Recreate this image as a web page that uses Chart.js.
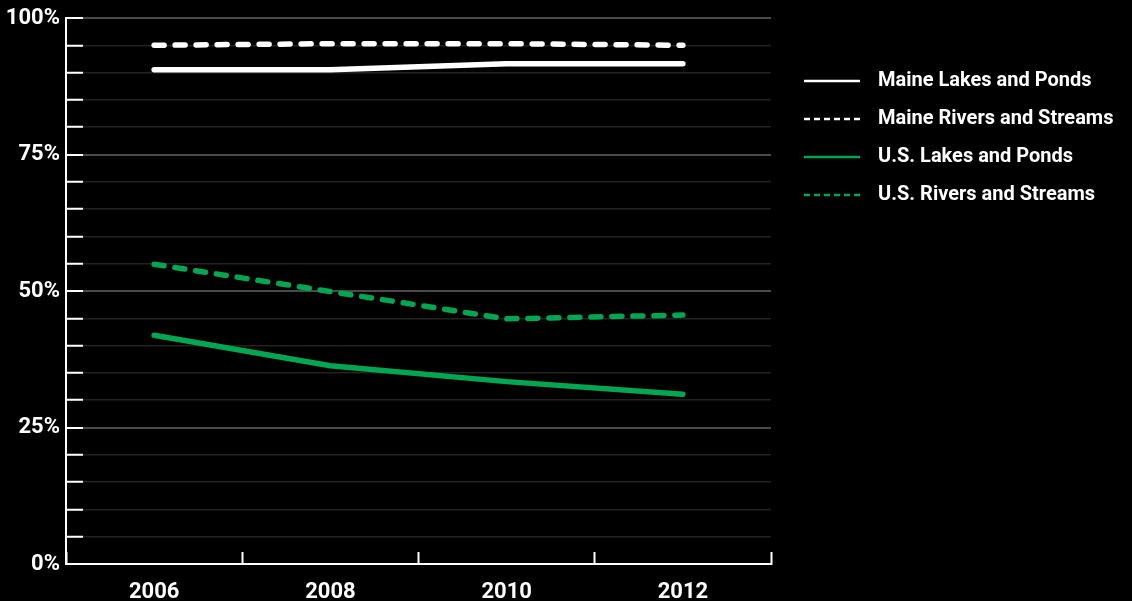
<!DOCTYPE html>
<html>
<head>
<meta charset="utf-8">
<script src="https://cdn.jsdelivr.net/npm/chart.js@4/dist/chart.umd.min.js"></script>
<style>
  html, body { margin: 0; padding: 0; background: #000; }
  canvas { display: block; }
</style>
</head>
<body>
<canvas id="c" width="1132" height="601"></canvas>
<script>
const categories = ['2006', '2008', '2010', '2012'];
const maineLakes = [90.5, 90.5, 91.6, 91.6];
const maineRivers = [95.0, 95.3, 95.3, 95.0];
const usLakes = [41.9, 36.3, 33.4, 31.1];
const usRivers = [54.9, 49.9, 44.9, 45.6];
const seriesNames = ['Maine Lakes and Ponds', 'Maine Rivers and Streams', 'U.S. Lakes and Ponds', 'U.S. Rivers and Streams'];
const majorTickValues = [0, 25, 50, 75, 100];
const yTickLabels = ['0%', '25%', '50%', '75%', '100%'];

const WHITE = '#ffffff';
const GREEN = '#00a651';
const FONT = 'Roboto, "Liberation Sans", Arial, sans-serif';

const bgPlugin = {
  id: 'bg',
  beforeDraw(chart) {
    const ctx = chart.ctx;
    ctx.save();
    ctx.fillStyle = '#000';
    ctx.fillRect(0, 0, chart.width, chart.height);
    ctx.restore();
  }
};

const legendPlace = {
  id: 'legendPlace',
  beforeLayout(chart) {
    const lg = chart.legend;
    if (lg && !lg._wrapped) {
      const orig = lg.fit;
      lg.fit = function () { orig.call(this); this.width = 1132 - 771; };
      lg._wrapped = true;
    }
  },
  afterLayout(chart) {
    const lg = chart.legend;
    if (lg) { lg.left += 15; }
  }
};

function legendSample(color, dashed) {
  const cv = document.createElement('canvas');
  cv.width = 64; cv.height = 6;
  const g = cv.getContext('2d');
  g.strokeStyle = color;
  g.lineWidth = 2.5;
  g.setLineDash(dashed ? [6, 4] : []);
  g.beginPath();
  g.moveTo(0, 3);
  g.lineTo(56, 3);
  g.stroke();
  return cv;
}

function mk(label, data, color, dashed) {
  return {
    label, data,
    borderColor: color,
    backgroundColor: color,
    borderWidth: 5.5,
    borderDash: dashed ? [10, 11] : [],
    borderCapStyle: 'round',
    borderJoinStyle: 'round',
    pointRadius: 0,
    tension: 0,
    fill: false,
    legendStyle: legendSample(color, dashed)
  };
}

new Chart(document.getElementById('c'), {
  type: 'line',
  data: {
    labels: categories,
    datasets: [
      mk(seriesNames[0], maineLakes, WHITE, false),
      mk(seriesNames[1], maineRivers, WHITE, true),
      mk(seriesNames[2], usLakes, GREEN, false),
      mk(seriesNames[3], usRivers, GREEN, true)
    ]
  },
  options: {
    responsive: false,
    animation: false,
    layout: { padding: { top: 0, left: 0, right: 0, bottom: 0 } },
    plugins: {
      tooltip: { enabled: false },
      legend: {
        position: 'right',
        align: 'start',
        title: { display: true, text: '', font: { size: 12, lineHeight: 1 }, padding: { top: 21, bottom: 20 } },
        labels: {
          color: WHITE,
          font: { family: FONT, size: 20, weight: 'bold' },
          padding: 18,
          usePointStyle: true,
          pointStyleWidth: 64,
          generateLabels(chart) {
            return chart.data.datasets.map((ds, i) => ({
              text: ds.label,
              fillStyle: ds.borderColor,
              strokeStyle: ds.borderColor,
              lineWidth: 0,
              pointStyle: ds.legendStyle,
              fontColor: WHITE,
              hidden: false,
              datasetIndex: i
            }));
          }
        }
      }
    },
    scales: {
      x: {
        type: 'category',
        offset: true,
        afterFit(s) { s.height = 601 - 564; },
        border: { display: true, color: WHITE, width: 2 },
        grid: {
          offset: true,
          drawOnChartArea: false,
          drawTicks: true,
          tickLength: -12,
          tickColor: WHITE,
          tickWidth: 2
        },
        ticks: {
          color: WHITE,
          padding: 27,
          font: { family: FONT, size: 22, weight: 'bold' },
          maxRotation: 0,
          autoSkip: false
        }
      },
      y: {
        min: 0,
        max: 100,
        afterFit(s) { s.width = 66; s.paddingTop = 18; s.paddingBottom = 0; },
        border: { display: true, color: WHITE, width: 2 },
        grid: {
          drawOnChartArea: true,
          color: (c) => majorTickValues.includes(c.tick.value) ? '#4a4a4a' : '#222222',
          lineWidth: (c) => majorTickValues.includes(c.tick.value) ? 2 : 1.5,
          tickLength: -17,
          tickColor: WHITE,
          tickWidth: 2
        },
        ticks: {
          stepSize: 5,
          autoSkip: false,
          color: WHITE,
          padding: 23,
          font: { family: FONT, size: 22, weight: 'bold' },
          callback: (v) => {
            const k = majorTickValues.indexOf(v);
            return k >= 0 ? yTickLabels[k] : '';
          }
        }
      }
    }
  },
  plugins: [bgPlugin, legendPlace]
});
</script>
</body>
</html>
